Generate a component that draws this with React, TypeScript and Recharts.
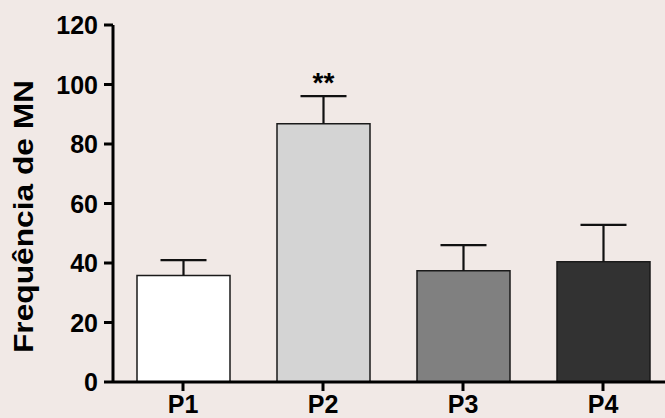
import React from "react";
import { BarChart, Bar, XAxis, YAxis, Cell, LabelList } from "recharts";

const categories = ["P1", "P2", "P3", "P4"];
const means = [35.8, 86.8, 37.4, 40.4];
const sem = [5.2, 9.3, 8.6, 12.4];
const significance = ["", "**", "", ""];
const fills = ["#ffffff", "#d4d4d4", "#808080", "#323232"];
const yTicks = [0, 20, 40, 60, 80, 100, 120];
const yLabel = "Frequência de MN";

const data = categories.map((c, i) => ({
  name: c,
  value: means[i],
  err: sem[i],
  sig: significance[i],
}));

const FONT = "'Liberation Sans', Arial, sans-serif";

const YTick = (props: any) => {
  const { x, y, payload } = props;
  return (
    <text
      x={x}
      y={y}
      textAnchor="end"
      dy={9.2}
      fontSize={25}
      fontWeight="bold"
      fontFamily={FONT}
      fill="#000"
    >
      {payload.value}
    </text>
  );
};

const XTick = (props: any) => {
  const { x, y, payload } = props;
  return (
    <text
      x={x}
      y={y}
      dy={19.5}
      textAnchor="middle"
      fontSize={25}
      fontWeight="bold"
      fontFamily={FONT}
      fill="#000"
    >
      {payload.value}
    </text>
  );
};

const YLabel = (props: any) => {
  const vb = props.viewBox || { x: 0, y: 25, width: 113, height: 357 };
  const cy = vb.y + vb.height / 2 + 13;
  return (
    <text
      transform={`translate(33,${cy}) rotate(-90)`}
      textAnchor="middle"
      fontSize={27}
      fontWeight="bold"
      fontFamily={FONT}
      fill="#000"
      textLength={273}
      lengthAdjust="spacingAndGlyphs"
    >
      {yLabel}
    </text>
  );
};

// upper-only error whisker, scaled with the bar's own pixel/value ratio
const ErrWhisker = (props: any) => {
  const { x, y, width, height, value, index } = props;
  const v = means[index];
  if (!value || !v) return null;
  const pxPerUnit = height / v;
  const cx = x + width / 2;
  const top = y - value * pxPerUnit;
  return (
    <g stroke="#111" strokeWidth={2.2}>
      <line x1={cx} y1={y} x2={cx} y2={top} />
      <line x1={cx - 23} y1={top} x2={cx + 23} y2={top} />
    </g>
  );
};

const SigLabel = (props: any) => {
  const { x, y, width, value } = props;
  if (!value) return null;
  return (
    <text
      x={x + width / 2}
      y={y - 32}
      textAnchor="middle"
      fontSize={28}
      fontWeight="bold"
      fontFamily={FONT}
      fill="#000"
    >
      {value}
    </text>
  );
};

export default function App() {
  return (
    <div
      style={{
        position: "fixed",
        left: 0,
        top: 0,
        width: 665,
        height: 418,
        overflow: "hidden",
        background: "#f1e9e6",
      }}
    >
      <BarChart
        width={673}
        height={418}
        data={data}
        margin={{ top: 25, right: 0, bottom: 0, left: 0 }}
      >
        <XAxis
          dataKey="name"
          height={36}
          axisLine={{ stroke: "#000", strokeWidth: 3 }}
          tickLine={{ stroke: "#000", strokeWidth: 3 }}
          tickSize={9}
          tickMargin={2}
          tick={<XTick />}
          interval={0}
        />
        <YAxis
          width={113}
          domain={[0, 120]}
          ticks={yTicks}
          interval={0}
          axisLine={{ stroke: "#000", strokeWidth: 3 }}
          tickLine={{ stroke: "#000", strokeWidth: 3 }}
          tickSize={9}
          tickMargin={6}
          tick={<YTick />}
          label={(p: any) => <YLabel {...p} />}
        />
        <Bar
          dataKey="value"
          barSize={93}
          stroke="#1a1a1a"
          strokeWidth={1.5}
          isAnimationActive={false}
        >
          {data.map((d, i) => (
            <Cell key={d.name} fill={fills[i]} />
          ))}
          <LabelList dataKey="err" content={<ErrWhisker />} />
          <LabelList dataKey="sig" content={<SigLabel />} />
        </Bar>
      </BarChart>
    </div>
  );
}
